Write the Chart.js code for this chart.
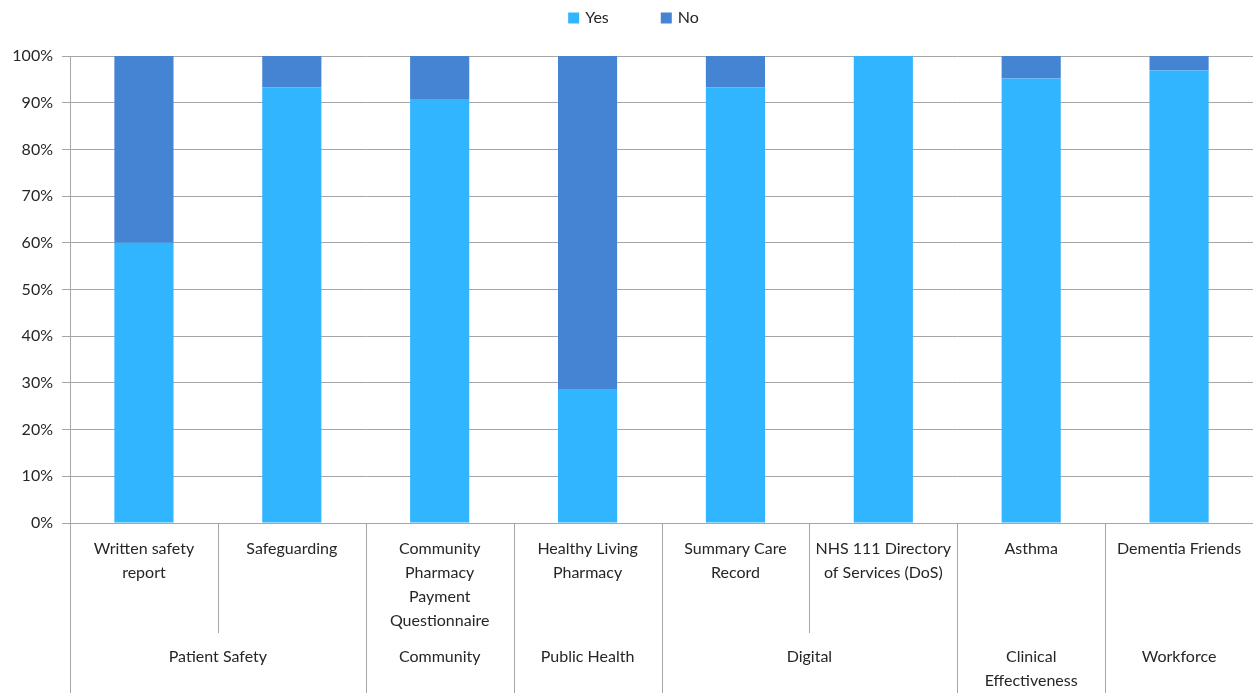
<!DOCTYPE html>
<html>
<head>
<meta charset="utf-8">
<script src="https://cdn.jsdelivr.net/npm/chart.js@4.4.1/dist/chart.umd.min.js"></script>
<style>
  html, body { margin: 0; padding: 0; background: #fff; }
  #wrap { width: 1253px; height: 693px; }
</style>
</head>
<body>
<div id="wrap"><canvas id="chart"></canvas></div>
<script>
// category labels (one array of lines per bar)
const categories = [
  ['Written safety', 'report'],
  ['Safeguarding'],
  ['Community', 'Pharmacy', 'Payment', 'Questionnaire'],
  ['Healthy Living', 'Pharmacy'],
  ['Summary Care', 'Record'],
  ['NHS 111 Directory', 'of Services (DoS)'],
  ['Asthma'],
  ['Dementia Friends']
];
// outer group for each category
const groups = [
  'Patient Safety', 'Patient Safety', 'Community', 'Public Health',
  'Digital', 'Digital', 'Clinical\nEffectiveness', 'Workforce'
];
const yesValues = [60, 93.3, 90.8, 28.7, 93.3, 100, 95.2, 96.9];
const noValues = [40, 6.7, 9.2, 71.3, 6.7, 0, 4.8, 3.1];
const yTicks = [0, 10, 20, 30, 40, 50, 60, 70, 80, 90, 100];

const textColor = '#262626';
const lineColor = '#a6a6a6';
const font = '16px Lato';

// draws the two-level category axis and the legend
const axisPlugin = {
  id: 'axisPlugin',
  afterDraw(chart) {
    const ctx = chart.ctx;
    const x = chart.scales.x;
    const area = chart.chartArea;
    const bottom = chart.height;
    const step = x.getPixelForValue(1) - x.getPixelForValue(0);
    ctx.save();
    ctx.strokeStyle = lineColor;
    ctx.lineWidth = 1;
    ctx.fillStyle = textColor;
    ctx.font = font;
    ctx.textAlign = 'center';
    ctx.textBaseline = 'middle';

    // left edge line down to the bottom
    ctx.beginPath();
    ctx.moveTo(Math.round(area.left) + 0.5, area.bottom);
    ctx.lineTo(Math.round(area.left) + 0.5, bottom);
    ctx.stroke();

    categories.forEach((lines, i) => {
      const cx = x.getPixelForValue(i);
      lines.forEach((t, j) => ctx.fillText(t, cx, area.bottom + 26 + j * 24));
      if (i < categories.length - 1) {
        const dx = Math.round(cx + step / 2) + 0.5;
        const sameGroup = groups[i] === groups[i + 1];
        ctx.beginPath();
        ctx.moveTo(dx, area.bottom);
        ctx.lineTo(dx, sameGroup ? area.bottom + 110 : bottom);
        ctx.stroke();
      }
    });

    // group labels
    let start = 0;
    for (let i = 1; i <= groups.length; i++) {
      if (i === groups.length || groups[i] !== groups[start]) {
        const gx = (x.getPixelForValue(start) + x.getPixelForValue(i - 1)) / 2;
        groups[start].split('\n').forEach((t, j) => ctx.fillText(t, gx, area.bottom + 134 + j * 24));
        start = i;
      }
    }

    // legend
    const sets = chart.data.datasets;
    const box = 11, gapText = 6, gapItem = 52;
    ctx.textAlign = 'left';
    const widths = sets.map(d => box + gapText + ctx.measureText(d.label).width);
    const total = widths.reduce((a, b) => a + b, 0) + gapItem * (sets.length - 1);
    let lx = chart.width / 2 - total / 2 + 7;
    const ly = 18;
    sets.forEach((d, i) => {
      ctx.fillStyle = d.backgroundColor;
      ctx.fillRect(lx, ly - box / 2, box, box);
      ctx.fillStyle = textColor;
      ctx.fillText(d.label, lx + box + gapText, ly);
      lx += widths[i] + gapItem;
    });
    ctx.restore();
  }
};

new Chart(document.getElementById('chart'), {
  type: 'bar',
  data: {
    labels: categories,
    datasets: [
      { label: 'Yes', data: yesValues, backgroundColor: '#31b5ff' },
      { label: 'No', data: noValues, backgroundColor: '#4584d3' }
    ]
  },
  options: {
    responsive: true,
    maintainAspectRatio: false,
    animation: false,
    layout: { padding: { top: 56, bottom: 170, left: 0, right: 0 } },
    datasets: { bar: { barPercentage: 0.4, categoryPercentage: 1.0 } },
    scales: {
      x: { stacked: true, display: false },
      y: {
        stacked: true,
        min: 0,
        max: 100,
        afterFit(scale) { scale.width = 70; },
        afterBuildTicks(scale) { scale.ticks = yTicks.map(v => ({ value: v })); },
        ticks: {
          color: textColor,
          font: { family: 'Lato', size: 16 },
          padding: 9,
          callback: v => v + '%'
        },
        grid: { color: lineColor, tickLength: 8, drawTicks: true },
        border: { color: lineColor }
      }
    },
    plugins: {
      legend: { display: false },
      tooltip: { enabled: false }
    }
  },
  plugins: [axisPlugin]
});
</script>
</body>
</html>
